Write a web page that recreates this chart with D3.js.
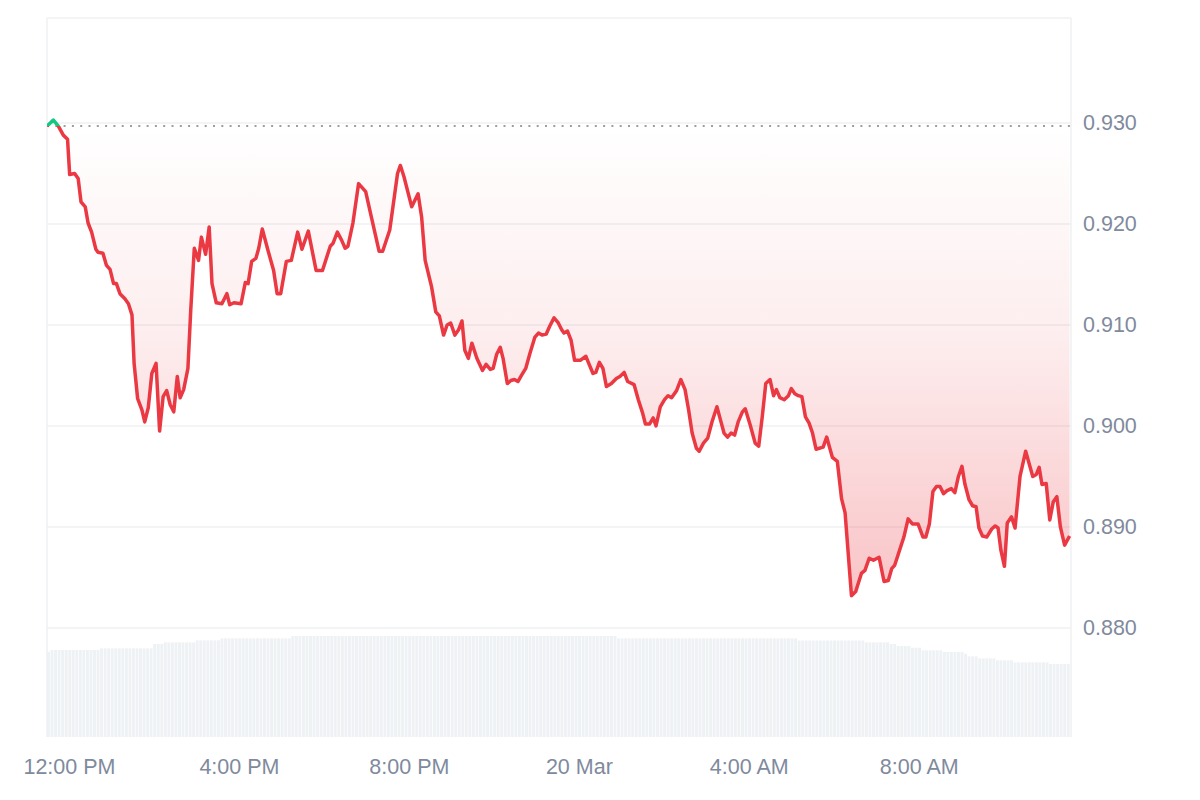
<!DOCTYPE html>
<html><head><meta charset="utf-8">
<script src="https://cdn.jsdelivr.net/npm/d3@7"></script>
<style>html,body{margin:0;padding:0;background:#fff;}svg{display:block;font-family:Arial,"Liberation Sans",Helvetica,sans-serif;}</style>
</head><body>
<svg id="chart" width="1200" height="800"></svg>
<script>
// ---- data ----
const startTime = "2024-03-19T11:29:00";
const minutes = [0,9,16,23,29,32,39,44,48,54,58,63,69,72,79,84,89,94,98,103,110,115,120,123,128,134,138,143,148,154,159,164,169,174,179,184,188,193,199,203,208,214,218,224,229,233,239,247,254,258,264,274,280,284,289,295,299,304,312,320,325,330,338,345,354,360,369,380,389,400,404,410,416,421,425,432,440,450,458,469,474,484,495,499,504,515,524,529,534,543,549,554,560,565,570,576,581,586,590,595,600,607,615,620,626,630,635,640,644,650,655,660,665,670,676,682,689,694,699,705,710,716,722,727,730,735,740,745,753,761,765,771,775,780,785,790,797,804,809,815,820,829,835,841,845,851,856,860,866,872,877,882,889,895,901,906,911,917,921,927,933,939,946,951,956,961,966,971,976,982,986,993,1000,1005,1010,1015,1021,1026,1030,1035,1041,1047,1051,1056,1061,1066,1071,1076,1081,1086,1096,1101,1109,1116,1122,1127,1136,1142,1150,1155,1161,1167,1175,1182,1188,1193,1197,1203,1210,1216,1222,1230,1237,1241,1246,1251,1256,1261,1266,1271,1277,1282,1287,1292,1296,1302,1307,1312,1316,1321,1327,1334,1339,1343,1347,1352,1356,1362,1367,1374,1382,1392,1397,1401,1405,1411,1416,1421,1426,1431,1437,1444];
const prices = [0.9297,0.9303,0.9297,0.9288,0.9284,0.9249,0.9250,0.9245,0.9222,0.9217,0.9201,0.9192,0.9175,0.9172,0.9171,0.9159,0.9155,0.9141,0.9141,0.9131,0.9126,0.9121,0.9110,0.9062,0.9027,0.9016,0.9004,0.9018,0.9052,0.9062,0.8995,0.9029,0.9035,0.9021,0.9014,0.9049,0.9028,0.9036,0.9057,0.9115,0.9176,0.9164,0.9187,0.9170,0.9197,0.9141,0.9122,0.9121,0.9131,0.9120,0.9122,0.9121,0.9142,0.9141,0.9163,0.9166,0.9176,0.9195,0.9174,0.9154,0.9131,0.9131,0.9163,0.9164,0.9192,0.9175,0.9193,0.9154,0.9154,0.9178,0.9181,0.9192,0.9184,0.9176,0.9178,0.9201,0.9240,0.9232,0.9207,0.9173,0.9173,0.9194,0.9250,0.9258,0.9247,0.9217,0.9230,0.9207,0.9164,0.9138,0.9113,0.9109,0.9090,0.9100,0.9102,0.9090,0.9095,0.9104,0.9075,0.9067,0.9082,0.9067,0.9055,0.9061,0.9056,0.9057,0.9071,0.9078,0.9067,0.9042,0.9045,0.9046,0.9044,0.9050,0.9057,0.9072,0.9088,0.9092,0.9090,0.9091,0.9099,0.9107,0.9102,0.9095,0.9092,0.9094,0.9085,0.9065,0.9065,0.9069,0.9062,0.9052,0.9053,0.9063,0.9057,0.9039,0.9042,0.9047,0.9049,0.9053,0.9044,0.9041,0.9026,0.9013,0.9002,0.9002,0.9008,0.9000,0.9019,0.9026,0.9030,0.9028,0.9035,0.9046,0.9036,0.9016,0.8993,0.8978,0.8975,0.8983,0.8988,0.9004,0.9019,0.9006,0.8993,0.8989,0.8993,0.8991,0.9004,0.9014,0.9017,0.9001,0.8983,0.8980,0.9009,0.9042,0.9046,0.9030,0.9036,0.9028,0.9026,0.9030,0.9037,0.9032,0.9030,0.9029,0.9009,0.9003,0.8993,0.8977,0.8979,0.8989,0.8969,0.8965,0.8928,0.8914,0.8832,0.8836,0.8854,0.8857,0.8869,0.8867,0.8870,0.8846,0.8847,0.8859,0.8862,0.8875,0.8890,0.8908,0.8903,0.8903,0.8890,0.8890,0.8903,0.8935,0.8940,0.8940,0.8933,0.8936,0.8938,0.8934,0.8950,0.8960,0.8943,0.8927,0.8921,0.8920,0.8899,0.8891,0.8890,0.8898,0.8901,0.8899,0.8877,0.8861,0.8904,0.8910,0.8899,0.8950,0.8975,0.8950,0.8952,0.8959,0.8942,0.8943,0.8907,0.8925,0.8930,0.8900,0.8882,0.8891];
// volume bars, one per 5 minutes (relative units)
const volume = [
85.3,87,87,87,87,87,87,87,87,87,
87,87,87,87,87,88.7,88.7,88.7,88.7,88.7,
88.7,88.7,88.7,88.7,88.7,88.7,88.7,88.7,88.7,88.7,
93,93,93,94.7,94.7,94.7,94.7,94.7,94.7,94.7,
94.7,94.7,96.7,96.7,96.7,96.7,96.7,96.7,96.7,98.7,
98.7,98.7,98.7,98.7,98.7,98.7,98.7,98.7,98.7,98.7,
98.7,98.7,98.7,98.7,98.7,98.7,98.7,98.7,98.7,101,
101,101,101,101,101,101,101,101,101,101,
101,101,101,101,101,101,101,101,101,101,
101,101,101,101,101,101,101,101,101,101,
101,101,101,101,101,101,101,101,101,101,
101,101,101,101,101,101,101,101,101,101,
101,101,101,101,101,101,101,101,101,101,
101,101,101,101,101,101,101,101,101,101,
101,101,101,101,101,101,101,101,101,101,
101,101,101,101,101,101,101,101,101,101,
101,98.7,98.7,98.7,98.7,98.7,98.7,98.7,98.7,98.7,
98.7,98.7,98.7,98.7,98.7,98.7,98.7,98.7,98.7,98.7,
98.7,98.7,98.7,98.7,98.7,98.7,98.7,98.7,98.7,98.7,
98.7,98.7,98.7,98.7,98.7,98.7,98.7,98.7,98.7,98.7,
98.7,98.7,98.7,98.7,98.7,98.7,98.7,98.7,98.7,98.7,
98.7,98.7,96.5,96.5,96.5,96.5,96.5,96.5,96.5,96.5,
96.5,96.5,96.5,96.5,96.5,96.5,96.5,96.5,96.5,96.5,
96.5,94.7,94.7,94.7,94.7,94.7,94.7,94.7,93,93,
91,91,91,91,89.3,89.3,89.3,86.7,86.7,86.7,
86.7,86.7,86.7,85,85,85,85,85,85,83.3,
80.7,80.7,80.7,78.7,78.7,78.7,78.7,78.7,76.7,76.7,
76.7,76.7,76.7,74.7,74.7,74.7,74.7,74.7,74.7,74.7,
74.7,74.7,74.7,73,73,73,73,73,73];
const yTicks = [0.88, 0.89, 0.90, 0.91, 0.92, 0.93];
const xTickTimes = ["2024-03-19T12:00:00","2024-03-19T16:00:00","2024-03-19T20:00:00","2024-03-20T00:00:00","2024-03-20T04:00:00","2024-03-20T08:00:00"];
const xTickLabels = ["12:00 PM","4:00 PM","8:00 PM","20 Mar","4:00 AM","8:00 AM"];

// ---- layout ----
const L = 47, R = 1071, T = 18, B = 737;
const RED = "#ea3943", GREEN = "#16c784", AXIS = "#808a9d";
const t0 = new Date(startTime);
const tAt = m => new Date(t0.getTime() + m * 60000);
const data = minutes.map((m, i) => ({t: tAt(m), v: prices[i]}));

const svg = d3.select("#chart");
const x = d3.scaleTime().domain([t0, tAt(1446)]).range([L, R]);
const y = d3.scaleLinear().domain([0.8692, 0.9404]).range([B, T]);
const yv = d3.scaleLinear().domain([0, 110]).range([B, B - 110]);
const base = prices[0];
const baseY = y(base);

const defs = svg.append("defs");
defs.append("clipPath").attr("id","clipAbove").append("rect")
  .attr("x", L).attr("y", T).attr("width", R - L).attr("height", baseY - T);
defs.append("clipPath").attr("id","clipBelow").append("rect")
  .attr("x", L).attr("y", baseY).attr("width", R - L).attr("height", B - baseY);
const gR = defs.append("linearGradient").attr("id","gRed").attr("gradientUnits","userSpaceOnUse")
  .attr("x1",0).attr("x2",0).attr("y1", baseY).attr("y2", y(d3.min(prices)));
gR.append("stop").attr("offset","0").attr("stop-color",RED).attr("stop-opacity",0.0);
gR.append("stop").attr("offset","0.45").attr("stop-color",RED).attr("stop-opacity",0.09);
gR.append("stop").attr("offset","1").attr("stop-color",RED).attr("stop-opacity",0.3);
const gG = defs.append("linearGradient").attr("id","gGreen").attr("gradientUnits","userSpaceOnUse")
  .attr("x1",0).attr("x2",0).attr("y1", y(d3.max(prices))).attr("y2", baseY);
gG.append("stop").attr("offset","0").attr("stop-color",GREEN).attr("stop-opacity",0.25);
gG.append("stop").attr("offset","1").attr("stop-color",GREEN).attr("stop-opacity",0.0);

// volume bars
const barW = (x(tAt(5)) - x(tAt(0))) - 0.6;
svg.append("g").selectAll("rect").data(volume).join("rect")
  .attr("x", (d, i) => x(tAt(i * 5)))
  .attr("y", d => yv(d))
  .attr("width", barW)
  .attr("height", d => B - yv(d))
  .attr("fill", "#eff2f5");

// grid lines
svg.append("g").selectAll("line").data(yTicks).join("line")
  .attr("x1", L).attr("x2", R).attr("y1", d => y(d)).attr("y2", d => y(d))
  .attr("stroke", "#eff0f2").attr("stroke-width", 1.5);

// frame
const frame = svg.append("g").attr("stroke","#eef0f2").attr("stroke-width",1.5).attr("fill","none");
frame.append("line").attr("x1",L).attr("x2",L).attr("y1",T).attr("y2",B);
frame.append("line").attr("x1",R).attr("x2",R).attr("y1",T).attr("y2",B);
frame.append("line").attr("x1",L).attr("x2",R).attr("y1",T).attr("y2",T);

// areas
const area = d3.area().x(d => x(d.t)).y0(baseY).y1(d => y(d.v));
svg.append("path").datum(data).attr("d", area).attr("fill","url(#gRed)").attr("clip-path","url(#clipBelow)");
svg.append("path").datum(data).attr("d", area).attr("fill","url(#gGreen)").attr("clip-path","url(#clipAbove)");

// baseline dotted
svg.append("line").attr("x1", L).attr("x2", R).attr("y1", baseY).attr("y2", baseY)
  .attr("stroke","#9e9e9e").attr("stroke-width",2).attr("stroke-dasharray","2 6.3");

// price line
const line = d3.line().x(d => x(d.t)).y(d => y(d.v));
svg.append("path").datum(data).attr("d", line).attr("fill","none").attr("stroke",RED)
  .attr("stroke-width",3.5).attr("stroke-linejoin","round").attr("clip-path","url(#clipBelow)");
svg.append("path").datum(data).attr("d", line).attr("fill","none").attr("stroke",GREEN)
  .attr("stroke-width",3.5).attr("stroke-linejoin","round").attr("clip-path","url(#clipAbove)");

// y axis (right)
const yAxis = d3.axisRight(y).tickValues(yTicks).tickFormat(d3.format(".3f")).tickSize(0).tickPadding(12);
const gy = svg.append("g").attr("transform", `translate(${R},0)`).call(yAxis);
gy.select(".domain").remove();
gy.selectAll("text").attr("fill", AXIS).style("font-size","21.5px");

// x axis
const xAxis = d3.axisBottom(x).tickValues(xTickTimes.map(s => new Date(s)))
  .tickFormat((d, i) => xTickLabels[i]).tickSize(0).tickPadding(22);
const gx = svg.append("g").attr("transform", `translate(0,${B})`).call(xAxis);
gx.select(".domain").remove();
gx.selectAll("text").attr("fill", AXIS).style("font-size","21.5px");
</script>
</body></html>
